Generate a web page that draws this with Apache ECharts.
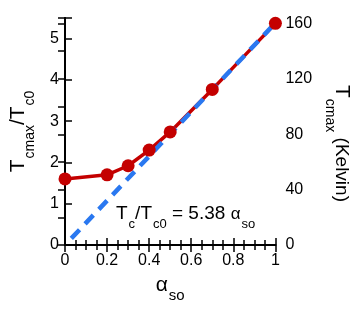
<!DOCTYPE html>
<html><head><meta charset="utf-8">
<script src="https://cdn.jsdelivr.net/npm/echarts@6/dist/echarts.min.js"></script>
<style>html,body{margin:0;padding:0;background:#fff}#c{width:360px;height:311px}</style>
</head><body><div id="c"></div>
<script>
// Data
const alphaSO = [0, 0.2, 0.3, 0.4, 0.5, 0.7, 1.0];
const tcRatio = [1.60, 1.70, 1.92, 2.30, 2.74, 3.77, 5.37];
const fitX = [0.03, 1.0];
const fitY = [0.16, 5.38];
const xTicks = [0, 0.2, 0.4, 0.6, 0.8, 1];
const leftTicks = [0, 1, 2, 3, 4, 5];
const rightTicks = [0, 40, 80, 120, 160];

const FF = "'Liberation Sans', Arial, sans-serif";
const RED = '#c40000', BLUE = '#2a78f0';
const pairs = (xs, ys) => xs.map((x, i) => [x, ys[i]]);

const chart = echarts.init(document.getElementById('c'), null, {renderer: 'canvas'});

const axisCommon = {
  axisLine: {show: true, lineStyle: {color: '#000', width: 2}},
  splitLine: {show: false},
};

chart.setOption({
  animation: false,
  backgroundColor: '#fff',
  grid: {left: 65, right: 80, top: 18, bottom: 66, containLabel: false},
  xAxis: [{
    ...axisCommon,
    type: 'value', position: 'bottom', min: 0, max: 1, interval: 0.2,
    axisTick: {show: true, inside: true, length: 7, lineStyle: {color: '#000', width: 1.5}},
    minorTick: {show: true, splitNumber: 4, length: 5, lineStyle: {color: '#000', width: 1.5}},
    axisLabel: {color: '#000', fontFamily: FF, fontSize: 16, margin: 8,
      formatter: v => xTicks.some(t => Math.abs(t - v) < 1e-9) ? String(v) : ''},
    name: '{a|α}{s|so}', nameLocation: 'middle', nameGap: 30,
    nameTextStyle: {rich: {
      a: {fontFamily: FF, fontSize: 21, color: '#000', verticalAlign: 'top', lineHeight: 21},
      s: {fontFamily: FF, fontSize: 15, color: '#000', verticalAlign: 'top', lineHeight: 15, padding: [13, 0, 0, 1]}
    }}
  }, {
    ...axisCommon,
    type: 'value', position: 'top', min: 0, max: 1, interval: 0.2,
    axisTick: {show: true, inside: true, length: 7, lineStyle: {color: '#000', width: 1.5}},
    minorTick: {show: true, splitNumber: 4, length: 5, lineStyle: {color: '#000', width: 1.5}},
    axisLabel: {show: false}
  }],
  yAxis: [{
    ...axisCommon,
    type: 'value', position: 'left', min: 0, max: 5.5, interval: 1,
    axisTick: {show: true, inside: true, length: 7, lineStyle: {color: '#000', width: 1.5}},
    axisLabel: {color: '#000', fontFamily: FF, fontSize: 16, margin: 6,
      formatter: v => leftTicks.includes(v) ? String(v) : ''},
    name: '{T|T}{s|cmax}{T|/T}{s|c0}', nameLocation: 'middle', nameRotate: 90, nameGap: 36,
    nameTextStyle: {rich: {
      T: {fontFamily: FF, fontSize: 21, color: '#000', verticalAlign: 'top', lineHeight: 21},
      s: {fontFamily: FF, fontSize: 14, color: '#000', verticalAlign: 'top', lineHeight: 14, padding: [15, 0, 0, 1]}
    }}
  }, {
    ...axisCommon,
    type: 'value', position: 'right', min: 0, max: 164, interval: 20,
    axisTick: {show: true, inside: true, length: 7, lineStyle: {color: '#000', width: 1.5}},
    axisLabel: {color: '#000', fontFamily: FF, fontSize: 16, margin: 10,
      formatter: v => rightTicks.includes(v) ? String(v) : ''},
    name: '{T|T}{s|cmax}{K| (Kelvin)}', nameLocation: 'middle', nameRotate: -90, nameGap: 48,
    nameTextStyle: {rich: {
      T: {fontFamily: FF, fontSize: 21, color: '#000', verticalAlign: 'top', lineHeight: 21, padding: [0, 0, 0, 24]},
      s: {fontFamily: FF, fontSize: 14, color: '#000', verticalAlign: 'top', lineHeight: 14, padding: [15, 0, 0, 1]},
      K: {fontFamily: FF, fontSize: 19, color: '#000', verticalAlign: 'top', lineHeight: 21, padding: [1, 0, 0, 0]}
    }}
  }],
  graphic: [{
    type: 'text', left: 116, top: 204, z: 100,
    style: {
      text: '{T|T}{s|c}{T|/T}{s|c0}{T| = 5.38 }{a|α}{s|so}',
      fill: '#000',
      rich: {
        T: {fontFamily: FF, fontSize: 19, fill: '#000', color: '#000', verticalAlign: 'top', lineHeight: 19},
        a: {fontFamily: FF, fontSize: 17, fill: '#000', color: '#000', verticalAlign: 'top', lineHeight: 17, padding: [2, 0, 0, 0]},
        s: {fontFamily: FF, fontSize: 13, fill: '#000', color: '#000', verticalAlign: 'top', lineHeight: 13, padding: [14, 0, 0, 1]}
      }
    }
  }],
  series: [{
    type: 'line', xAxisIndex: 0, yAxisIndex: 0, data: pairs(alphaSO, tcRatio),
    showSymbol: false, lineStyle: {color: RED, width: 3.5}, z: 2
  }, {
    type: 'line', xAxisIndex: 0, yAxisIndex: 0, data: pairs(fitX, fitY),
    showSymbol: false, lineStyle: {color: BLUE, width: 4.5, type: [12, 8]}, z: 3
  }, {
    type: 'scatter', xAxisIndex: 0, yAxisIndex: 0, data: pairs(alphaSO, tcRatio),
    symbol: 'circle', symbolSize: 13, itemStyle: {color: RED, opacity: 1}, z: 4
  }]
});
</script></body></html>
